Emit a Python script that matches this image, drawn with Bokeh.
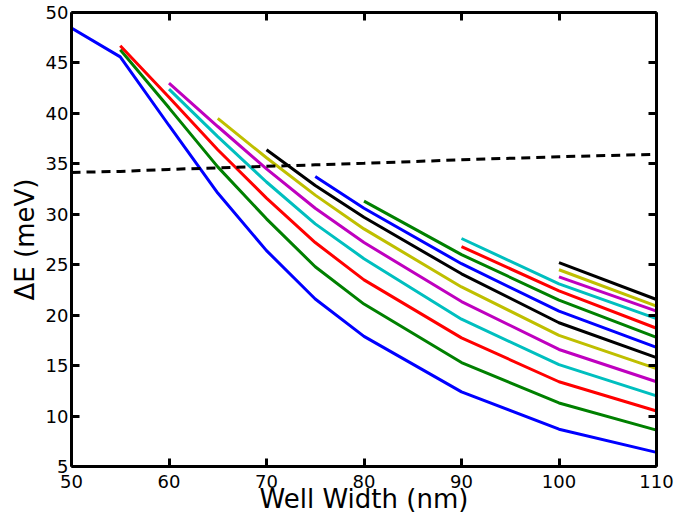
from bokeh.plotting import figure
from bokeh.models import LinearAxis, Range1d, FixedTicker
from bokeh.embed import file_html
from bokeh.resources import INLINE

# Well widths (nm) at which the curves are sampled
widths = [50, 55, 60, 65, 70, 75, 80, 90, 100, 110]

# Energy splitting curves (meV); each starts at a later width
s01 = [48.45, 45.6, 38.8, 32.1, 26.4, 21.6, 17.9, 12.4, 8.7, 6.4]
s02 = [46.3, 40.55, 34.7, 29.55, 24.8, 21.1, 15.3, 11.3, 8.6]
s03 = [46.7, 41.6, 36.4, 31.6, 27.2, 23.5, 17.75, 13.4, 10.5]
s04 = [42.4, 37.7, 33.2, 29.05, 25.6, 19.6, 15.1, 12.0]
s05 = [43.0, 38.7, 34.5, 30.6, 27.2, 21.35, 16.6, 13.4]
s06 = [39.5, 35.6, 31.9, 28.55, 22.8, 18.0, 14.7]
s07 = [36.4, 32.85, 29.7, 24.1, 19.25, 15.8]
s08 = [33.75, 30.6, 25.1, 20.4, 16.8]
s09 = [31.3, 26.0, 21.5, 17.8]
s10 = [26.8, 22.4, 18.7]
s11 = [27.6, 23.1, 19.65]
s12 = [23.8, 20.4]
s13 = [24.5, 20.9]
s14 = [25.2, 21.55]

# Dashed reference curve (meV)
ref = [34.15, 34.25, 34.45, 34.6, 34.75, 34.9, 35.05, 35.4, 35.7, 35.95]

series = [s01, s02, s03, s04, s05, s06, s07, s08, s09, s10, s11, s12, s13, s14]
colors = ["#0000ff", "#008000", "#ff0000", "#00bfbf", "#bf00bf", "#bfbf00", "#000000"]

x_ticks = [50, 60, 70, 80, 90, 100, 110]
y_ticks = [5, 10, 15, 20, 25, 30, 35, 40, 45, 50]

p = figure(width=677, height=516, output_backend="svg", toolbar_location=None,
           x_range=Range1d(50, 110), y_range=Range1d(5, 50),
           min_border_left=71, min_border_right=21, min_border_top=12, min_border_bottom=50)
p.xgrid.visible = False
p.ygrid.visible = False
p.outline_line_color = None
p.background_fill_color = "white"
p.border_fill_color = "white"

bottom = p.below[0]
left = p.left[0]

for i, s in enumerate(series):
    xs = widths[len(widths) - len(s):]
    p.line(xs, s, line_color=colors[i % len(colors)], line_width=3)

p.line(widths, ref, line_color="black", line_width=3, line_dash="9 6")

top = LinearAxis()
right = LinearAxis()
p.add_layout(top, "above")
p.add_layout(right, "right")

FONT = "DejaVu Sans"
for ax in [bottom, top]:
    ax.ticker = FixedTicker(ticks=x_ticks)
for ax in [left, right]:
    ax.ticker = FixedTicker(ticks=y_ticks)

for ax in [bottom, left, top, right]:
    ax.axis_line_width = 3
    ax.axis_line_color = "black"
    ax.major_tick_in = 8
    ax.major_tick_out = 0
    ax.major_tick_line_width = 3
    ax.major_tick_line_color = "black"
    ax.minor_tick_line_color = None
    ax.major_label_text_font = FONT
    ax.major_label_text_color = "black"
    ax.major_label_text_font_size = "18px"
    ax.major_label_standoff = 3
    ax.axis_label_text_font = FONT
    ax.axis_label_text_font_style = "normal"
    ax.axis_label_text_font_size = "26px"
    ax.axis_label_text_color = "black"

for ax in [top, right]:
    ax.major_label_text_font_size = "1px"
    ax.major_label_text_color = None
    ax.major_label_standoff = 0

bottom.axis_label = "Well Width (nm)"
bottom.major_label_standoff = 8
bottom.axis_label_standoff = -7
left.axis_label = "ΔE (meV)"
left.axis_label_standoff = 3

open("out.html", "w").write(file_html(p, INLINE))
